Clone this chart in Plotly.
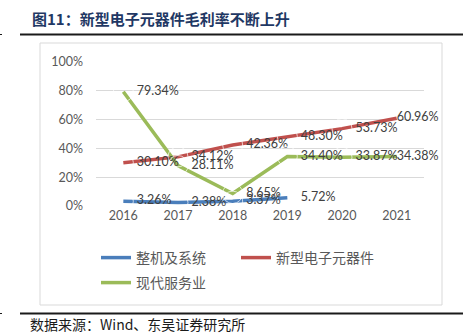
import plotly.graph_objects as go

# Gross margin by segment, 2016-2021
years = ["2016", "2017", "2018", "2019", "2020", "2021"]
whole_machine = [3.26, 2.38, 3.37, 5.72]
new_components = [30.10, 34.12, 42.36, 48.30, 53.73, 60.96]
modern_services = [79.34, 28.11, 8.65, 34.40, 33.87, 34.38]

series_names = ["整机及系统", "新型电子元器件", "现代服务业"]
series_values = [whole_machine, new_components, modern_services]
series_colors = ["#4A7EBB", "#C0504D", "#9BBB59"]
legend_ids = ["legend", "legend", "legend2"]

y_ticks = [0, 20, 40, 60, 80, 100]
y_tick_labels = ["0%", "20%", "40%", "60%", "80%", "100%"]

W, H = 465, 333
L, R, T, B = 96, 41, 62, 127   # plot area: x 96..424, y 62..206
PW, PH = W - L - R, H - T - B


def px_x(px):
    return (px - L) / PW


def px_y(py):
    return (H - B - py) / PH


fig = go.Figure()
for name, vals, color, lg in zip(series_names, series_values, series_colors, legend_ids):
    fig.add_trace(go.Scatter(
        x=years[:len(vals)], y=vals, name=name, mode="lines",
        line=dict(color=color, width=3.5),
        legend=lg, hoverinfo="skip",
    ))

# value labels, drawn on top of all lines; the last year's labels sit
# closer to their point so they stay inside the frame
for vals in series_values:
    xs = years[:len(vals)]
    gap = [0 if x == years[-1] else 20 for x in xs]
    fig.add_trace(go.Scatter(
        x=xs, y=vals, mode="markers+text",
        text=[f"{v:.2f}%" for v in vals], textposition="middle right",
        marker=dict(size=gap, color="rgba(0,0,0,0)"),
        textfont=dict(family="Lato, Noto Sans", size=12.5, color="#404040"),
        showlegend=False, hoverinfo="skip", cliponaxis=False,
    ))

annotations = [
    dict(x=px_x(30), y=px_y(18), xref="paper", yref="paper",
         text="<b>图11：新型电子元器件毛利率不断上升</b>", showarrow=False,
         xanchor="left", yanchor="middle",
         font=dict(family="Noto Sans CJK SC", size=15, color="#1F3864")),
    dict(x=px_x(28), y=px_y(324), xref="paper", yref="paper",
         text="数据来源：Wind、东吴证券研究所", showarrow=False,
         xanchor="left", yanchor="middle",
         font=dict(family="Noto Sans CJK SC", size=14, color="#1A1A1A")),
]

shapes = [
    dict(type="rect", xref="paper", yref="paper",
         x0=px_x(40), x1=px_x(442), y0=px_y(43), y1=px_y(305),
         line=dict(color="#D9D9D9", width=1), layer="below"),
    dict(type="line", xref="paper", yref="paper",
         x0=px_x(20), x1=px_x(463), y0=px_y(34.5), y1=px_y(34.5),
         line=dict(color="#1A1A1A", width=2)),
    dict(type="line", xref="paper", yref="paper",
         x0=px_x(20), x1=px_x(463), y0=px_y(313.5), y1=px_y(313.5),
         line=dict(color="#1A1A1A", width=2)),
    dict(type="line", xref="paper", yref="paper",
         x0=px_x(0), x1=px_x(2), y0=px_y(34.5), y1=px_y(34.5),
         line=dict(color="#1A1A1A", width=1)),
    dict(type="line", xref="paper", yref="paper",
         x0=px_x(0), x1=px_x(2), y0=px_y(313.5), y1=px_y(313.5),
         line=dict(color="#1A1A1A", width=1)),
]

legend_font = dict(family="Noto Sans CJK SC", size=14, color="#595959")

fig.update_layout(
    width=W, height=H,
    margin=dict(l=L, r=R, t=T, b=B),
    paper_bgcolor="white", plot_bgcolor="white",
    showlegend=True,
    legend=dict(
        orientation="h", x=px_x(96), y=px_y(242), xanchor="left", yanchor="top",
        font=legend_font, entrywidth=95, entrywidthmode="pixels",
        bgcolor="rgba(0,0,0,0)", itemclick=False,
    ),
    legend2=dict(
        orientation="h", x=px_x(96), y=px_y(267), xanchor="left", yanchor="top",
        font=legend_font, bgcolor="rgba(0,0,0,0)", itemclick=False,
    ),
    xaxis=dict(
        type="category", categoryorder="array", categoryarray=years,
        range=[-0.5, 5.5], showgrid=False, zeroline=False, showline=False,
        ticks="", tickfont=dict(family="Lato, Noto Sans", size=12.5, color="#595959"),
        fixedrange=True,
    ),
    yaxis=dict(
        range=[0, 100], tickvals=y_ticks, ticktext=y_tick_labels,
        showgrid=True, gridcolor="#D9D9D9", gridwidth=1, zeroline=False,
        showline=False, ticks="", ticklabelstandoff=12,
        tickfont=dict(family="Lato, Noto Sans", size=12.5, color="#595959"),
        fixedrange=True,
    ),
    annotations=annotations,
    shapes=shapes,
)

fig.write_html("out.html")
